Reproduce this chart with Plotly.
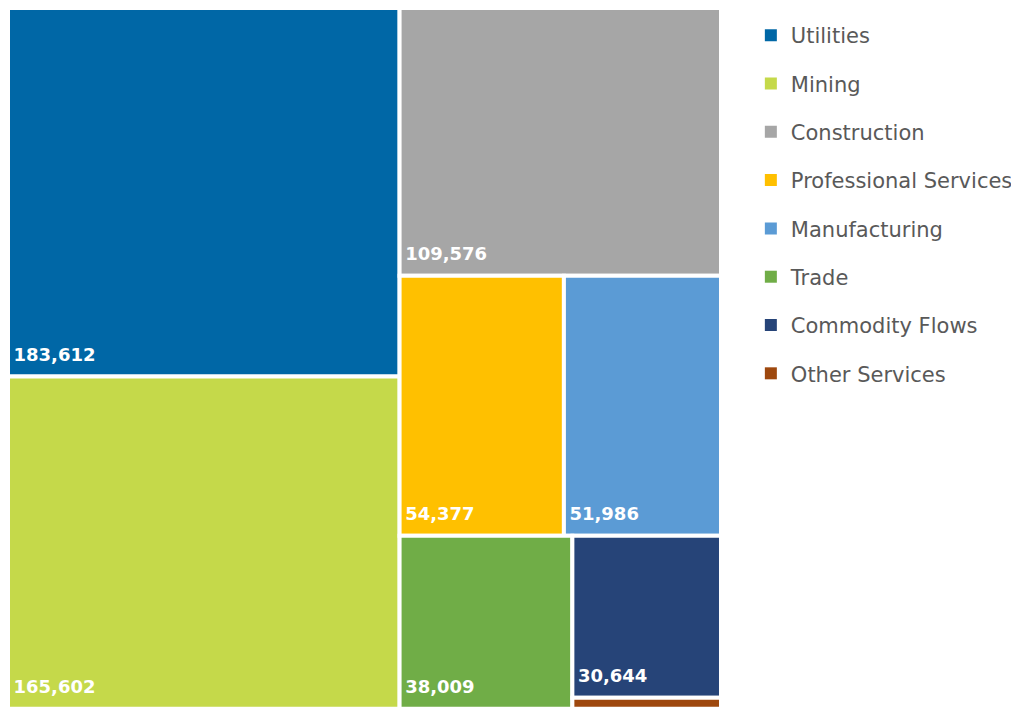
import plotly.graph_objects as go

# sectors and values
sectors = ["Utilities", "Mining", "Construction", "Professional Services",
           "Manufacturing", "Trade", "Commodity Flows", "Other Services"]
values = [183612, 165602, 109576, 54377, 51986, 38009, 30644, 2050]
colors = ["#0067A6", "#C5D94A", "#A6A6A6", "#FFC000",
          "#5B9BD5", "#70AD47", "#264478", "#9E480E"]

# labels: bold number, nudged in from the box corner with a small spacer line;
# the thin Other Services strip carries no label in the original
labels_txt = []
for v in values:
    if v > 10000:
        labels_txt.append("\u00a0<span style='font-size:18px'><b>{:,}</b></span><br>\u00a0".format(v))
    else:
        labels_txt.append("")

fig = go.Figure()
fig.add_trace(go.Treemap(
    labels=sectors,
    parents=[""] * len(sectors),
    values=values,
    text=labels_txt,
    texttemplate="%{text}",
    textposition="bottom left",
    textfont=dict(family="DejaVu Sans", size=8, color="white"),
    marker=dict(colors=colors, line=dict(color="white", width=4),
                pad=dict(t=0, l=0, r=0, b=0)),
    tiling=dict(packing="squarify", pad=0),
    pathbar=dict(visible=False),
    sort=True,
    hoverinfo="label+value",
    domain=dict(x=[0, 0.6997], y=[0.009, 1]),
))

# legend entries
for name, c in zip(sectors, colors):
    fig.add_trace(go.Scatter(x=[None], y=[None], mode="markers", name=name,
                             legendgroup=name,
                             marker=dict(symbol="square", size=15, color=c)))

fig.update_layout(
    width=1019, height=707,
    margin=dict(l=0, r=0, t=0, b=0),
    paper_bgcolor="white", plot_bgcolor="white",
    xaxis=dict(visible=False), yaxis=dict(visible=False),
    legend=dict(x=0.729, y=0.99, xanchor="left", yanchor="top",
                font=dict(family="DejaVu Sans", size=21, color="#595959"),
                tracegroupgap=18, itemsizing="constant"),
)

fig.write_html("out.html")
